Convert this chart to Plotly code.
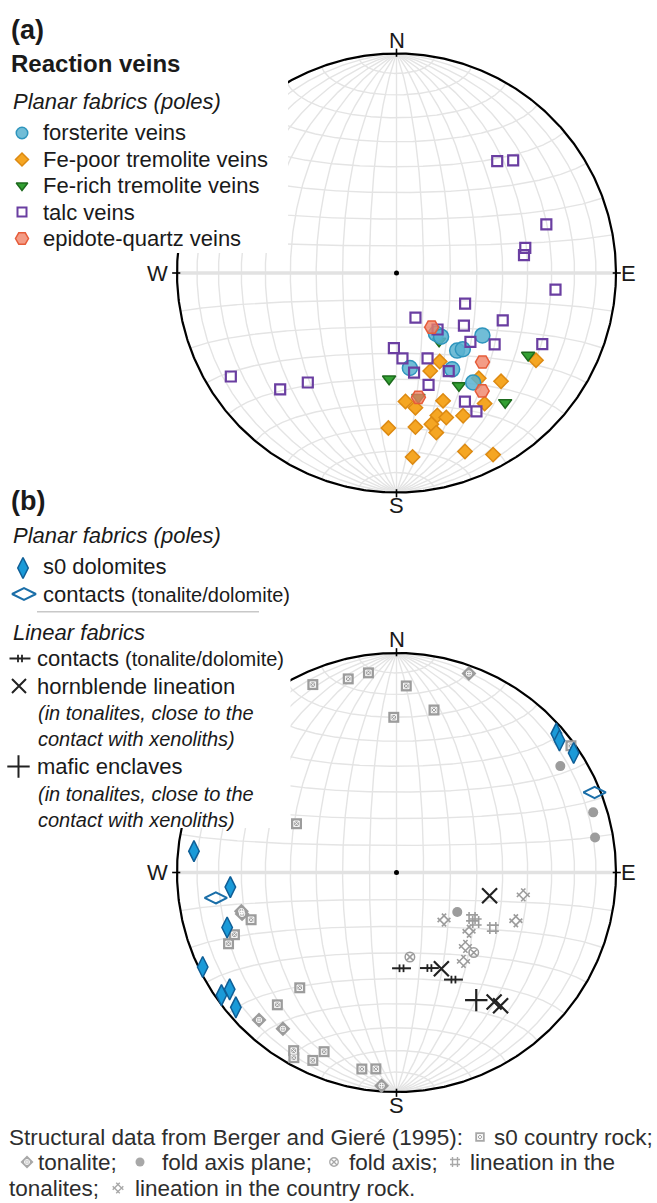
import numpy as np
import plotly.graph_objects as go

# ---------------------------------------------------------------
# Orientation data: trend / plunge in degrees (lower hemisphere)
# ---------------------------------------------------------------
# (a) Reaction veins - poles to planar fabrics
forsterite_trend = [147, 145, 126, 142, 139, 172, 150, 145]
forsterite_plunge = [63, 61, 50, 53, 52, 54, 48, 39]

fe_poor_trend = [154, 161, 122, 142, 136, 176, 172, 160, 146, 164,
                 161, 155, 183, 173, 167, 166, 175, 159, 152]
fe_poor_plunge = [53, 51, 26, 39, 32, 41, 38, 38, 29, 33,
                  31, 29, 30, 30, 30, 26, 17, 14, 7]

fe_rich_trend = [148, 122, 184, 151, 140, 170]
fe_rich_plunge = [60, 30, 50, 41, 24, 42]

talc_trend = [96, 114, 157, 128, 114, 144, 133, 126, 116, 182, 176, 160, 170,
              152, 164, 152, 150, 42, 46, 72, 79, 82, 238, 225, 219]
talc_plunge = [28, 62, 72, 58, 46, 64, 52, 44, 27, 62, 58, 56, 52,
               48, 46, 34, 28, 32, 27, 29, 40, 41, 12, 26, 36]

epidote_trend = [147, 136, 144, 170]
epidote_plunge = [66, 43, 34, 42]

# (b) planar fabrics (poles)
s0_dolomite_trend = [49, 51, 56, 276, 265, 252, 244, 235, 235, 230]
s0_dolomite_plunge = [4, 5, 3, 8, 25, 20, 2, 3, 8, 5]

contact_plane_trend = [68, 262]
contact_plane_plunge = [3, 18]

# (b) linear fabrics
contact_lin_trend = [177, 161, 152]
contact_lin_plunge = [54, 52, 44]

hornblende_trend = [104, 155, 143, 142]
hornblende_plunge = [54, 50, 27, 24]

enclave_trend = [148]
enclave_plunge = [32]

# (b) Berger and Gieré (1995)
s0_country_trend = [336, 346, 352, 3, 359, 13, 296, 54, 252, 249,
                    247, 220, 222, 210, 209, 204, 202, 190, 186]
s0_country_plunge = [7, 10, 9, 16, 30, 25, 48, 2, 31, 22,
                     18, 32, 20, 7, 4, 7, 13, 10, 11]

tonalite_trend = [20, 256, 255, 223, 216, 184]
tonalite_plunge = [4, 28, 28, 9, 13, 3]

fold_plane_trend = [57, 73, 80, 123]
fold_plane_plunge = [12, 7, 9, 63]

fold_axis_trend = [171, 136]
fold_axis_plunge = [58, 48]

lin_tonalite_trend = [121, 122, 120]
lin_tonalite_plunge = [57, 55, 48]

lin_country_trend = [135, 100, 112, 129, 137, 143]
lin_country_plunge = [65, 41, 41, 55, 52, 48]

# ---------------------------------------------------------------
# Page geometry
# ---------------------------------------------------------------
W, H = 657, 1203
PX = 219.5                 # net radius in pixels
CX = 396.5                 # horizontal centre of both nets
CY_A, CY_B = 273.0, 872.5  # vertical centres of net (a) and net (b)

FONT = "Liberation Sans"
TXT = "#1a1a1a"
GRID = "#e4e4e4"
GRAY = "#9c9c9c"
CAP_GRAY = "#a8a8a8"


def project(trend, plunge):
    """Lambert equal-area (Schmidt) projection, lower hemisphere."""
    t = np.radians(np.asarray(trend, float))
    p = np.radians(np.asarray(plunge, float))
    r = np.sqrt(2.0) * np.sin((np.pi / 2 - p) / 2)
    return r * np.sin(t), r * np.cos(t)


def sphere_to_net(lam, phi):
    x = np.cos(phi) * np.sin(lam)
    y = np.sin(phi)
    z = np.cos(phi) * np.cos(lam)
    s = np.sqrt(1 + z)
    return x / s, y / s


def net_grid():
    xs, ys = [], []
    s = np.radians(np.linspace(-90, 90, 361))
    for k in range(-80, 90, 10):
        a = np.radians(k)
        gx, gy = sphere_to_net(a, s)          # great circles through N-S
        xs += list(gx) + [None]
        ys += list(gy) + [None]
        if k != 0:
            sx, sy = sphere_to_net(s, a)      # small circles about N-S axis
            xs += list(sx) + [None]
            ys += list(sy) + [None]
    return xs, ys


fig = go.Figure()


def add(tr):
    fig.add_trace(tr)


def draw_net(xa, ya, cy, mask_right, mask_top, mask_bottom):
    gx, gy = net_grid()
    add(go.Scatter(x=gx, y=gy, xaxis=xa, yaxis=ya, mode="lines",
                   line=dict(color=GRID, width=1.4), hoverinfo="skip"))
    add(go.Scatter(x=[-1, 1], y=[0, 0], xaxis=xa, yaxis=ya, mode="lines",
                   line=dict(color="#e2e2e2", width=3.6), hoverinfo="skip"))
    th = np.linspace(0, 2 * np.pi, 721)
    add(go.Scatter(x=np.cos(th), y=np.sin(th), xaxis=xa, yaxis=ya, mode="lines",
                   line=dict(color="black", width=2.2), hoverinfo="skip"))
    tx, ty = [], []
    for ang in (0, 90, 180, 270):
        a = np.radians(ang)
        tx += [0.985 * np.sin(a), 1.022 * np.sin(a), None]
        ty += [0.985 * np.cos(a), 1.022 * np.cos(a), None]
    add(go.Scatter(x=tx, y=ty, xaxis=xa, yaxis=ya, mode="lines",
                   line=dict(color="black", width=1.6), hoverinfo="skip"))
    # white panel behind the key
    xr = (mask_right - CX) / PX
    y0 = (cy - mask_bottom) / PX
    y1 = (cy - mask_top) / PX
    add(go.Scatter(x=[-3, xr, xr, -3, -3], y=[y0, y0, y1, y1, y0], xaxis=xa, yaxis=ya,
                   mode="lines", fill="toself", fillcolor="white",
                   line=dict(width=0, color="white"), hoverinfo="skip"))
    add(go.Scatter(x=[0], y=[0], xaxis=xa, yaxis=ya, mode="markers",
                   marker=dict(symbol="circle", size=5, color="black"), hoverinfo="skip"))


def pts(trend, plunge, xa, ya, **marker):
    x, y = project(trend, plunge)
    add(go.Scatter(x=x, y=y, xaxis=xa, yaxis=ya, mode="markers",
                   marker=marker, hoverinfo="skip"))


# ------------------------- net (a) -------------------------
draw_net("x", "y", CY_A, 288, -50, 253)

pts(fe_poor_trend, fe_poor_plunge, "x", "y", symbol="diamond", size=11,
    color="#f5a623", line=dict(color="#dd8a12", width=1.5))
pts(fe_rich_trend, fe_rich_plunge, "x", "y", symbol="triangle-down", size=11.5,
    color="#33a033", line=dict(color="#1d6a1d", width=1.5))
pts(forsterite_trend, forsterite_plunge, "x", "y", symbol="circle", size=15,
    color="rgba(88,178,208,0.85)", line=dict(color="#2e95bd", width=1.5))
pts(talc_trend, talc_plunge, "x", "y", symbol="square-open", size=10,
    color="#6a3ea1", line=dict(color="#6a3ea1", width=2.2))
pts(epidote_trend, epidote_plunge, "x", "y", symbol="hexagon2", size=14,
    color="rgba(240,128,100,0.78)", line=dict(color="#e65c3a", width=1.5))

# ------------------------- net (b) -------------------------
draw_net("x2", "y2", CY_B, 290.5, 600, 828)

xs0, ys0 = project(s0_country_trend, s0_country_plunge)
add(go.Scatter(x=xs0, y=ys0, xaxis="x2", yaxis="y2", mode="markers",
               marker=dict(symbol="square", size=11, color=GRAY), hoverinfo="skip"))
add(go.Scatter(x=xs0, y=ys0, xaxis="x2", yaxis="y2", mode="markers",
               marker=dict(symbol="square-x-open", size=5.5, color="white",
                           line=dict(color="white", width=0.9)), hoverinfo="skip"))
xto, yto = project(tonalite_trend, tonalite_plunge)
add(go.Scatter(x=xto, y=yto, xaxis="x2", yaxis="y2", mode="markers",
               marker=dict(symbol="diamond", size=11.5, color=GRAY), hoverinfo="skip"))
add(go.Scatter(x=xto, y=yto, xaxis="x2", yaxis="y2", mode="markers",
               marker=dict(symbol="circle-cross-open", size=5.5, color="white",
                           line=dict(color="white", width=0.9)), hoverinfo="skip"))
pts(fold_plane_trend, fold_plane_plunge, "x2", "y2", symbol="circle", size=10, color=GRAY)
pts(fold_axis_trend, fold_axis_plunge, "x2", "y2", symbol="circle-x-open", size=9.5,
    color=GRAY, line=dict(color=GRAY, width=1.5))
pts(lin_tonalite_trend, lin_tonalite_plunge, "x2", "y2", symbol="hash-open", size=12,
    color=GRAY, line=dict(color=GRAY, width=1.6))
pts(lin_country_trend, lin_country_plunge, "x2", "y2", symbol="hash-open", size=12,
    angle=45, color=GRAY, line=dict(color=GRAY, width=1.6))

pts(s0_dolomite_trend, s0_dolomite_plunge, "x2", "y2", symbol="diamond-tall", size=15,
    color="#1a9ad8", line=dict(color="#0f5e96", width=1.5))
pts(contact_plane_trend, contact_plane_plunge, "x2", "y2", symbol="diamond-wide-open",
    size=16, color="#1a6ea8", line=dict(color="#1a6ea8", width=2))

# linear contacts: a bar crossed by two short ticks
xc, yc = project(contact_lin_trend, contact_lin_plunge)
add(go.Scatter(x=xc, y=yc, xaxis="x2", yaxis="y2", mode="markers",
               marker=dict(symbol="line-ew", size=13.5, line=dict(color="#222", width=2)),
               hoverinfo="skip"))
tick = 2.0 / PX
for d in (-tick, tick):
    add(go.Scatter(x=xc + d, y=yc, xaxis="x2", yaxis="y2", mode="markers",
                   marker=dict(symbol="line-ns", size=5.5, line=dict(color="#222", width=1.8)),
                   hoverinfo="skip"))
pts(hornblende_trend, hornblende_plunge, "x2", "y2", symbol="x-thin", size=15,
    line=dict(color="#222", width=2.2))
pts(enclave_trend, enclave_plunge, "x2", "y2", symbol="cross-thin", size=16,
    line=dict(color="#222", width=2.2))

# ------------------------- key (pixel overlay) -------------------------
def key(x, y, **marker):
    add(go.Scatter(x=[x], y=[y], xaxis="x3", yaxis="y3", mode="markers",
                   marker=marker, hoverinfo="skip"))


key(22, 133, symbol="circle", size=11.5, color="rgba(88,178,208,0.85)",
    line=dict(color="#2e95bd", width=1.5))
key(22, 159.5, symbol="diamond", size=10, color="#f5a623", line=dict(color="#dd8a12", width=1.5))
key(22, 185.5, symbol="triangle-down", size=10, color="#33a033", line=dict(color="#1d6a1d", width=1.5))
key(22, 212, symbol="square-open", size=9, color="#6a3ea1", line=dict(color="#6a3ea1", width=2))
key(22, 238.5, symbol="hexagon2", size=13, color="rgba(240,128,100,0.78)",
    line=dict(color="#e65c3a", width=1.5))

key(23, 568, symbol="diamond-tall", size=15, color="#1a9ad8", line=dict(color="#0f5e96", width=1.5))
key(24, 594, symbol="diamond-wide-open", size=17, color="#1a6ea8", line=dict(color="#1a6ea8", width=2))
key(20, 658.5, symbol="line-ew", size=15, line=dict(color="#222", width=2))
for d in (-2.0, 2.0):
    key(20 + d, 658.5, symbol="line-ns", size=5.5, line=dict(color="#222", width=1.8))
key(19, 686, symbol="x-thin", size=14, line=dict(color="#222", width=2))
key(18.5, 766.5, symbol="cross-thin", size=16, line=dict(color="#222", width=2))

# caption symbols
key(480, 1137, symbol="square", size=9.5, color=CAP_GRAY)
key(480, 1137, symbol="square-x-open", size=5, color="white", line=dict(color="white", width=0.9))
key(27, 1162, symbol="diamond", size=10, color=CAP_GRAY)
key(27, 1162, symbol="circle-cross-open", size=5, color="white", line=dict(color="white", width=0.9))
key(140, 1162, symbol="circle", size=9, color=CAP_GRAY)
key(334, 1162, symbol="circle-x-open", size=8.5, color=CAP_GRAY, line=dict(color=CAP_GRAY, width=1.3))
key(455, 1162, symbol="hash-open", size=10, color=CAP_GRAY, line=dict(color=CAP_GRAY, width=1.4))
key(118, 1188, symbol="hash-open", size=10, angle=45, color=CAP_GRAY,
    line=dict(color=CAP_GRAY, width=1.4))

# separator in the key of (b)
add(go.Scatter(x=[37, 259], y=[611.7, 611.7], xaxis="x3", yaxis="y3", mode="lines",
               line=dict(color="#c8c8c8", width=1.5), hoverinfo="skip"))

# ------------------------- texts -------------------------
ann = []


def text(x, y, s, size=22, color=TXT, anchor="left", ref=("x3", "y3")):
    ann.append(dict(x=x, y=y, xref=ref[0], yref=ref[1], text=s, showarrow=False,
                    xanchor=anchor, yanchor="middle",
                    font=dict(family=FONT, size=size, color=color)))


small = "<span style='font-size:20px'>(tonalite/dolomite)</span>"

text(9, 30, "<b>(a)</b>", 27)
text(9, 63, "<b>Reaction veins</b>", 24)
text(11, 101, "<i>Planar fabrics (poles)</i>")
for y, s in zip([132, 159, 185.5, 212, 238.5],
                ["forsterite veins", "Fe-poor tremolite veins", "Fe-rich tremolite veins",
                 "talc veins", "epidote-quartz veins"]):
    text(41, y, s)

text(9, 501, "<b>(b)</b>", 27)
text(11, 535, "<i>Planar fabrics (poles)</i>")
text(41, 566.5, "s0 dolomites")
text(41, 594, "contacts " + small)
text(11, 632, "<i>Linear fabrics</i>")
text(35, 658.5, "contacts " + small)
text(35, 686, "hornblende lineation")
text(36, 713, "<i>(in tonalites, close to the</i>", 20)
text(36, 739, "<i>contact with xenoliths)</i>", 20)
text(35, 766.5, "mafic enclaves")
text(36, 794, "<i>(in tonalites, close to the</i>", 20)
text(36, 819.5, "<i>contact with xenoliths)</i>", 20)

cap = "#2e2e2e"
CS = 22.5
text(7, 1137, "Structural data from Berger and Gieré (1995):", CS, cap)
text(492, 1137, "s0 country rock;", CS, cap)
text(36, 1162, "tonalite;", CS, cap)
text(160, 1162, "fold axis plane;", CS, cap)
text(347, 1162, "fold axis;", CS, cap)
text(468, 1162, "lineation in the", CS, cap)
text(7, 1188, "tonalites;", CS, cap)
text(133, 1188, "lineation in the country rock.", CS, cap)

# compass letters
for xa, ya in (("x", "y"), ("x2", "y2")):
    text(0, 1.06, "N", 22, anchor="center", ref=(xa, ya))
    text(0, -1.06, "S", 22, anchor="center", ref=(xa, ya))
    text(1.055, 0, "E", 22, anchor="center", ref=(xa, ya))
    text(-1.09, 0, "W", 22, anchor="center", ref=(xa, ya))

# ------------------------- layout -------------------------
x_lo = -CX / PX
xr = [x_lo, x_lo + W / PX]
yr_a = [CY_A / PX - H / PX, CY_A / PX]
yr_b = [CY_B / PX - H / PX, CY_B / PX]
ax = dict(visible=False, showgrid=False, zeroline=False, domain=[0, 1], fixedrange=True)

fig.update_layout(
    width=W, height=H, margin=dict(l=0, r=0, t=0, b=0, pad=0),
    paper_bgcolor="white", plot_bgcolor="rgba(0,0,0,0)", showlegend=False,
    xaxis=dict(ax, range=xr, anchor="y"),
    yaxis=dict(ax, range=yr_a, anchor="x"),
    xaxis2=dict(ax, range=xr, anchor="y2"),
    yaxis2=dict(ax, range=yr_b, anchor="x2"),
    xaxis3=dict(ax, range=[0, W], anchor="y3"),
    yaxis3=dict(ax, range=[H, 0], anchor="x3"),
    annotations=ann,
)

fig.write_html("out.html")
